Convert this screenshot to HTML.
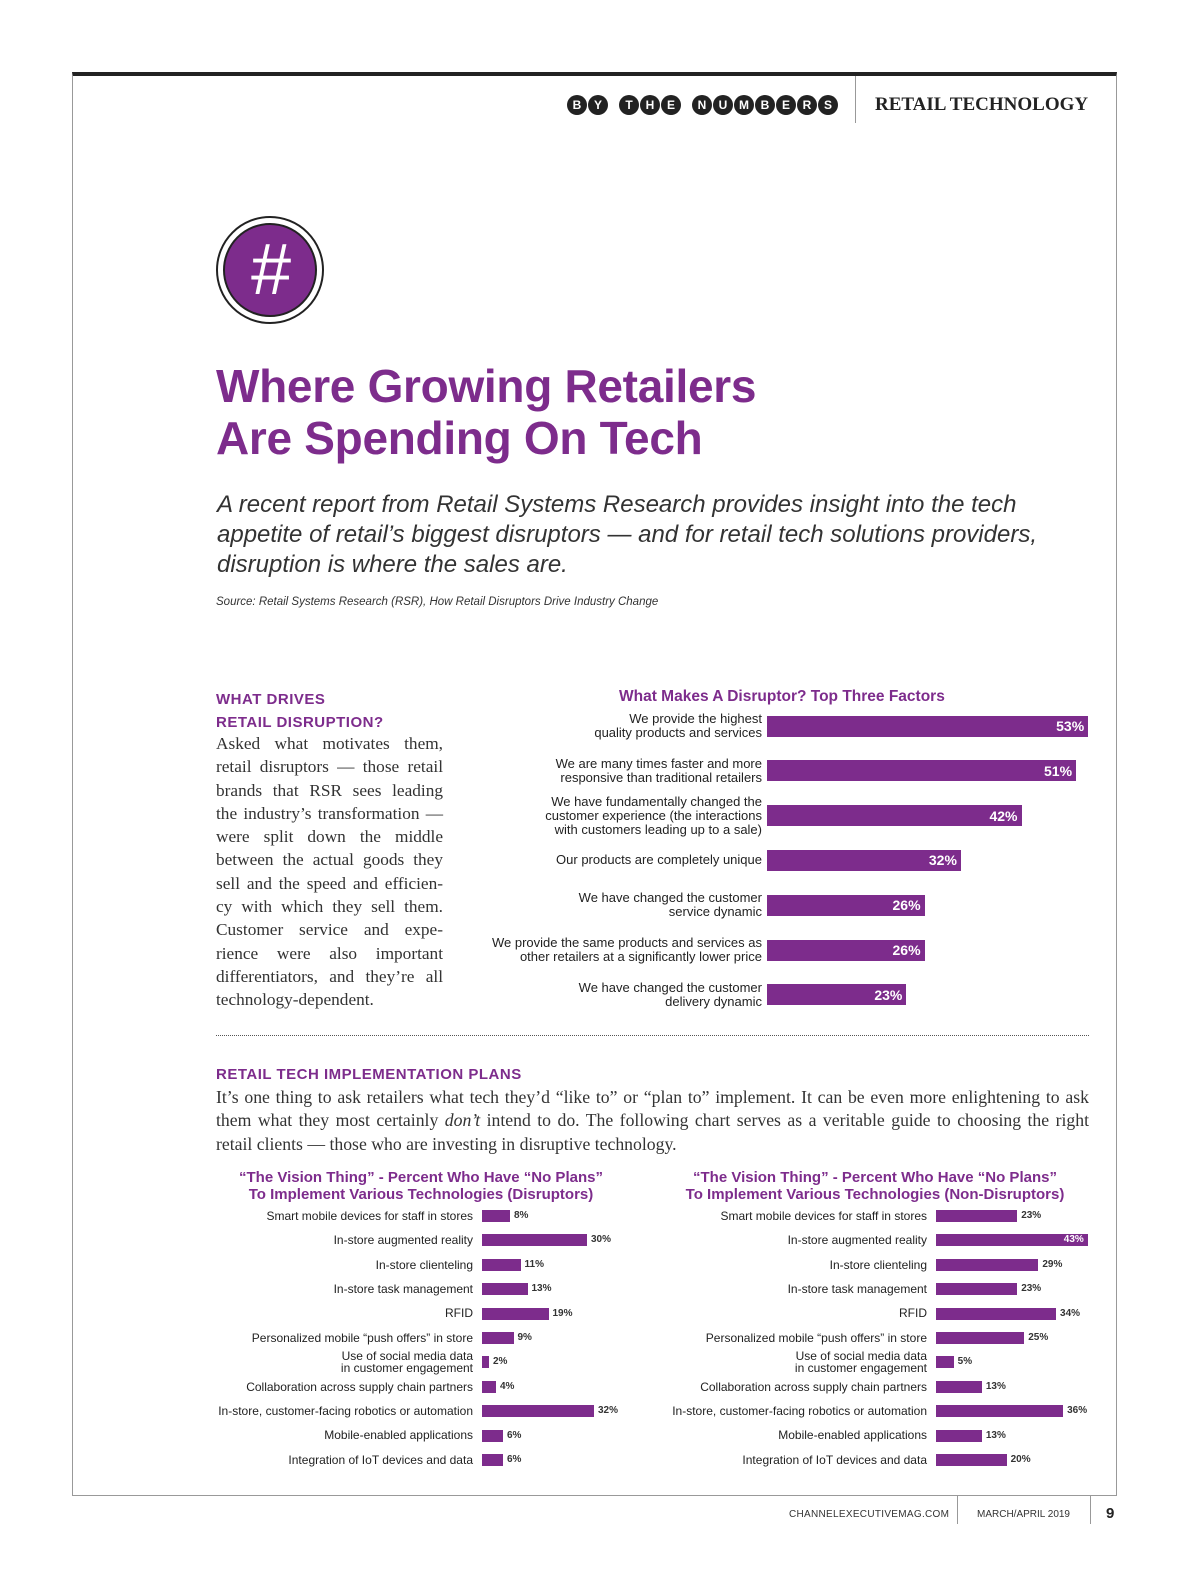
<!DOCTYPE html>
<html><head><meta charset="utf-8"><style>
*{margin:0;padding:0;box-sizing:border-box}
body{width:1200px;height:1582px;background:#fff;position:relative;font-family:"Liberation Sans",sans-serif;overflow:hidden}
.abs{position:absolute}
.p{color:#7d2c8c}
.body{font-family:"Liberation Serif",serif;font-size:17.3px;color:#333;line-height:23.3px}
.ball{display:inline-block;width:20px;height:20px;border-radius:50%;background:#222;color:#fff;font-size:12px;font-weight:bold;text-align:center;line-height:20px;margin-right:1px}
.gap{display:inline-block;width:10px}
</style></head><body>
<div class="abs" style="left:72px;top:72px;width:1045px;height:1424px;border:1px solid #999;border-top:4px solid #222"></div>
<div class="abs" style="left:567px;top:95px;white-space:nowrap">
<span class="ball">B</span><span class="ball">Y</span><span class="gap"></span><span class="ball">T</span><span class="ball">H</span><span class="ball">E</span><span class="gap"></span><span class="ball">N</span><span class="ball">U</span><span class="ball">M</span><span class="ball">B</span><span class="ball">E</span><span class="ball">R</span><span class="ball">S</span></div>
<div class="abs" style="left:855px;top:76px;width:1px;height:47px;background:#999"></div>
<div class="abs" style="left:875px;top:94px;font-family:'Liberation Serif',serif;font-weight:bold;font-size:19px;color:#222">RETAIL TECHNOLOGY</div>
<div class="abs" style="left:216px;top:216px;width:108px;height:108px;border-radius:50%;border:2px solid #222;background:#fff">
<div style="position:absolute;left:5px;top:5px;width:94px;height:94px;border-radius:50%;border:2px solid #222;background:#7d2c8c;color:#fff;font-size:72px;text-align:center;line-height:90px;font-style:italic">#</div></div>
<div class="abs p" style="left:216px;top:360px;font-size:46px;font-weight:bold;line-height:52px;letter-spacing:-0.3px">Where Growing Retailers<br>Are Spending On Tech</div>
<div class="abs" style="left:217px;top:490px;font-size:24px;font-style:italic;color:#333;line-height:30px">A recent report from Retail Systems Research provides insight into the tech<br>appetite of retail’s biggest disruptors — and for retail tech solutions providers,<br>disruption is where the sales are.</div>
<div class="abs" style="left:216px;top:596px;font-size:11.5px;font-style:italic;color:#333">Source: Retail Systems Research (RSR), How Retail Disruptors Drive Industry Change</div>
<div class="abs p" style="left:216px;top:688px;font-size:15px;font-weight:bold;line-height:23px;letter-spacing:0.5px">WHAT DRIVES<br>RETAIL DISRUPTION?</div>
<div class="abs body" style="left:216px;top:732px;width:227px;text-align:justify">Asked what motivates them, retail disruptors — those retail brands that RSR sees leading the industry’s transformation — were split down the middle between the actual goods they sell and the speed and efficien-cy with which they sell them. Customer service and expe-rience were also important differentiators, and they’re all technology-dependent.</div>
<div class="abs p" style="left:619px;top:688px;font-size:15.5px;font-weight:bold">What Makes A Disruptor? Top Three Factors</div>
<div id="c1" class="abs" style="left:0;top:0"></div>
<div class="abs" style="left:216px;top:1035px;width:873px;border-top:1.5px dotted #555"></div>
<div class="abs p" style="left:216px;top:1066px;font-size:15px;font-weight:bold;letter-spacing:0.5px">RETAIL TECH IMPLEMENTATION PLANS</div>
<div class="abs body" style="left:216px;top:1086px;width:873px;text-align:justify;font-size:17.7px">It’s one thing to ask retailers what tech they’d “like to” or “plan to” implement. It can be even more enlightening to ask them what they most certainly <i>don’t</i> intend to do. The following chart serves as a veritable guide to choosing the right retail clients — those who are investing in disruptive technology.</div>
<div class="abs p" style="left:216px;top:1170px;width:410px;text-align:center;font-size:15px;font-weight:bold;line-height:16.5px">“The Vision Thing” - Percent Who Have “No Plans”<br>To Implement Various Technologies (Disruptors)</div>
<div class="abs p" style="left:670px;top:1170px;width:410px;text-align:center;font-size:15px;font-weight:bold;line-height:16.5px">“The Vision Thing” - Percent Who Have “No Plans”<br>To Implement Various Technologies (Non-Disruptors)</div>
<div id="c2" class="abs" style="left:0;top:0"></div>
<div id="c3" class="abs" style="left:0;top:0"></div>
<div class="abs" style="left:789px;top:1509px;font-size:10px;color:#333;letter-spacing:0.3px">CHANNELEXECUTIVEMAG.COM</div>
<div class="abs" style="left:957px;top:1496px;width:1px;height:28px;background:#999"></div>
<div class="abs" style="left:977px;top:1509px;font-size:10px;color:#333">MARCH/APRIL 2019</div>
<div class="abs" style="left:1090px;top:1496px;width:1px;height:28px;background:#999"></div>
<div class="abs" style="left:1106px;top:1505px;font-size:15px;font-weight:bold;color:#222">9</div>
<script>
const topCats=[["We provide the highest","quality products and services"],["We are many times faster and more","responsive than traditional retailers"],["We have fundamentally changed the","customer experience (the interactions","with customers leading up to a sale)"],["Our products are completely unique"],["We have changed the customer","service dynamic"],["We provide the same products and services as","other retailers at a significantly lower price"],["We have changed the customer","delivery dynamic"]];
const topVals=[53,51,42,32,26,26,23];
const techCats=[["Smart mobile devices for staff in stores"],["In-store augmented reality"],["In-store clienteling"],["In-store task management"],["RFID"],["Personalized mobile “push offers” in store"],["Use of social media data","in customer engagement"],["Collaboration across supply chain partners"],["In-store, customer-facing robotics or automation"],["Mobile-enabled applications"],["Integration of IoT devices and data"]];
const disVals=[8,30,11,13,19,9,2,4,32,6,6];
const nonVals=[23,43,29,23,34,25,5,13,36,13,20];
const P='#7d2c8c';
function mk(parent,css,txt){const d=document.createElement('div');d.style.cssText='position:absolute;'+css;if(txt!==undefined)d.textContent=txt;parent.appendChild(d);return d;}
function chart(id,cats,vals,o){
  const root=document.getElementById(id);
  const x=v=>v*o.scale, y=i=>o.y0+i*o.step;
  cats.forEach((c,i)=>{
    const cy=y(i);
    const lab=mk(root,`left:${o.labelRight-500}px;width:500px;top:${cy-c.length*o.lh/2}px;text-align:right;font-size:${o.fs}px;line-height:${o.lh}px;color:#222;white-space:nowrap`);
    lab.innerHTML=c.join('<br>');
    
    
    const w=x(vals[i]);
    const b=mk(root,`left:${o.x0}px;top:${cy-o.bh/2}px;width:${w}px;height:${o.bh}px;background:${P}`);
    
    
    const inside=o.inside||w>o.maxW-4;
    const v=mk(root,inside?`left:${o.x0+w-60}px;width:56px;text-align:right;top:${cy-o.vfs/2-1}px;font-size:${o.vfs}px;font-weight:bold;color:#fff`:`left:${o.x0+w+4}px;top:${cy-o.vfs/2-1}px;font-size:${o.vfs}px;font-weight:bold;color:#333`,vals[i]+'%');
    
    
  });
}
chart('c1',topCats,topVals,{x0:767,scale:6.06,y0:726,step:44.8,bh:21,fs:13,lh:14,labelRight:762,vfs:14,inside:true});
chart('c2',techCats,disVals,{x0:482,scale:3.5,y0:1216,step:24.4,bh:12,fs:12,lh:12.5,labelRight:473,vfs:10,maxW:999});
chart('c3',techCats,nonVals,{x0:936,scale:3.53,y0:1216,step:24.4,bh:12,fs:12,lh:12.5,labelRight:927,vfs:10,maxW:152});
</script>
</body></html>
